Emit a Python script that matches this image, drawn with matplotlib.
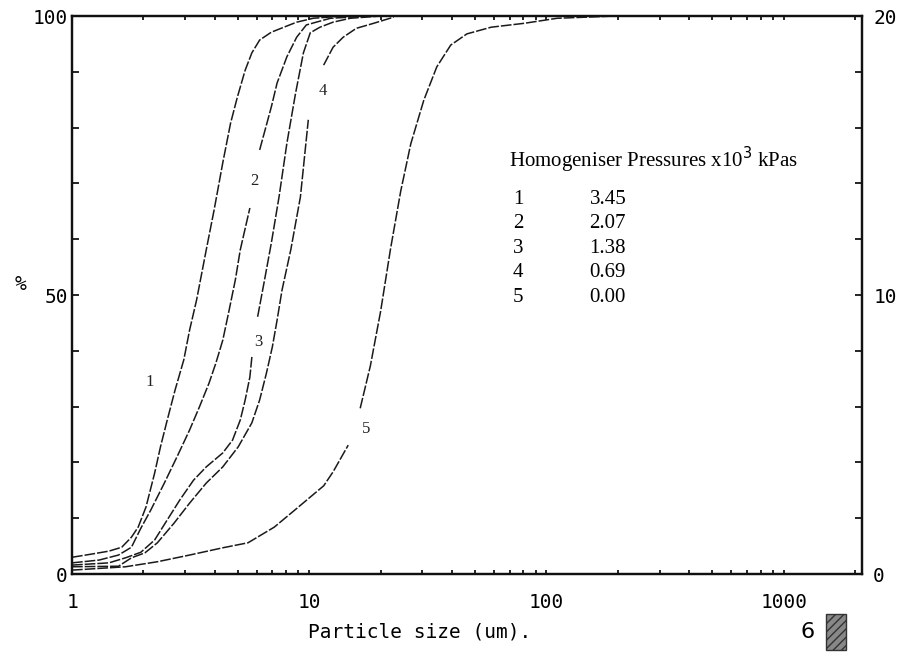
import numpy as np
import matplotlib
matplotlib.use('Agg')
import matplotlib.pyplot as plt
from matplotlib.ticker import FixedLocator, NullFormatter
from matplotlib.patches import Rectangle

nan = np.nan

# particle size (um) / cumulative %; nan = gap left for the curve label
size_1 = [1.0, 1.22, 1.43, 1.62, 1.78, 1.90, 2.05, 2.23, 2.36, 2.52, 2.72, 2.96, 3.13, 3.35,
          3.68, 3.97, 4.32, 4.66, 4.98, 5.37, 5.73, 6.18, 6.92, 7.82, 8.85, 10.4, 13.9, 20.0]
pct_1 = [3.0, 3.6, 4.1, 4.8, 6.6, 8.4, 12.0, 18.1, 22.8, 27.6, 33.0, 38.4, 43.7, 49.1,
         58.1, 65.2, 73.7, 80.8, 85.5, 90.3, 93.4, 95.7, 97.1, 98.0, 98.9, 99.6, 100.0, 100.0]

size_2 = [1.0, 1.30, 1.57, 1.78, 1.95, 2.15, 2.45, 2.77, 3.13, 3.44, 3.78, 4.04, 4.32, 4.57,
          4.88, 5.12, 5.62, nan, 6.18, 6.92, 7.32, 8.05, 8.85, 9.72, 10.7, 12.3, 18.0]
pct_2 = [2.0, 2.5, 3.4, 4.8, 8.2, 11.5, 16.3, 21.0, 25.8, 29.9, 34.2, 37.8, 41.9, 46.8,
         52.7, 58.1, 65.6, nan, 76.0, 83.7, 88.0, 92.7, 96.2, 98.4, 98.9, 99.6, 100.0]

size_3 = [1.0, 1.43, 1.68, 1.95, 2.23, 2.52, 2.85, 3.25, 3.68, 4.32, 4.75, 5.12, 5.37, 5.62,
          5.73, nan, 6.06, 6.48, 6.92, 7.46, 8.05, 8.76, 9.45, 10.1, 11.1, 12.6, 14.9, 20.0]
pct_3 = [1.6, 2.0, 2.9, 3.9, 6.1, 9.7, 13.3, 16.8, 19.2, 21.7, 24.0, 27.6, 31.2, 35.3,
         38.9, nan, 46.1, 52.7, 59.3, 67.6, 77.2, 86.2, 93.4, 97.0, 98.0, 98.9, 99.6, 100.0]

size_4 = [1.0, 1.57, 1.78, 2.03, 2.29, 2.69, 3.13, 3.68, 4.32, 5.02, 5.73, 6.18, 6.60, 6.99,
          7.32, 7.68, 8.36, 9.18, 9.91, nan, 11.5, 12.6, 13.9, 15.8, 18.7, 22.7]
pct_4 = [1.3, 1.4, 2.9, 3.8, 5.6, 9.1, 12.7, 16.3, 19.2, 22.8, 27.1, 31.2, 36.0, 40.7,
         45.5, 50.9, 58.1, 67.6, 81.4, nan, 91.2, 94.4, 96.2, 97.8, 98.7, 99.8]

size_5 = [1.0, 1.68, 2.29, 3.13, 4.32, 5.52, 7.12, 8.6, 11.5, 12.6, 13.9, 14.6, nan, 16.4,
          18.1, 20.0, 22.0, 24.3, 26.8, 30.4, 34.5, 39.5, 46.2, 58.5, 80.7, 111.0, 195.0]
pct_5 = [0.7, 1.3, 2.2, 3.4, 4.7, 5.6, 8.4, 11.3, 15.8, 18.3, 21.5, 23.1, nan, 29.7,
         37.3, 47.1, 58.2, 68.6, 77.1, 84.9, 90.9, 94.8, 96.8, 98.0, 98.7, 99.6, 100.0]

curve_ids = ['1', '2', '3', '4', '5']
label_size = [2.13, 5.86, 6.1, 11.4, 17.4]
label_pct = [34.5, 70.5, 41.5, 86.5, 26.0]

pressures = ['3.45', '2.07', '1.38', '0.69', '0.00']

x_ticks = [1, 10, 100, 1000]
x_ticklabels = ['1', '10', '100', '1000']

mono = 'DejaVu Sans Mono'
serif = 'Liberation Serif'

fig = plt.figure(figsize=(8.97, 6.57), dpi=100)
ax = fig.add_axes([0.0803, 0.1263, 0.8807, 0.8493])

curves = [(size_1, pct_1), (size_2, pct_2), (size_3, pct_3), (size_4, pct_4), (size_5, pct_5)]
for xs, ys in curves:
    ax.plot(xs, ys, color='#1a1a1a', lw=1.1, linestyle=(0, (7, 1.3)))

for cid, lx, ly in zip(curve_ids, label_size, label_pct):
    ax.text(lx, ly, cid, fontsize=12, family=serif, ha='center', va='center', color='#222')

ax.set_xscale('log')
ax.set_xlim(1, 2140)
ax.set_ylim(0, 100)

ax.set_xticks(x_ticks)
ax.set_xticklabels(x_ticklabels, family=mono, fontsize=14)
minor = [m * 10 ** d for d in range(4) for m in range(2, 10) if m * 10 ** d < 2140]
ax.xaxis.set_minor_locator(FixedLocator(minor))
ax.xaxis.set_minor_formatter(NullFormatter())
ax.tick_params(axis='x', which='both', direction='in', length=3, width=1.2,
               top=True, pad=14)

ax.set_yticks([0, 50, 100])
ax.set_yticklabels(['0', '50', '100'], family=mono, fontsize=14)
ax.yaxis.set_minor_locator(FixedLocator(range(10, 100, 10)))
ax.tick_params(axis='y', which='both', direction='in', length=5, width=1.2, pad=3)

ax2 = ax.twinx()
ax2.set_ylim(0, 20)
ax2.set_yticks([0, 10, 20])
ax2.set_yticklabels(['0', '10', '20'], family=mono, fontsize=14)
ax2.yaxis.set_minor_locator(FixedLocator(range(2, 20, 2)))
ax2.tick_params(axis='y', which='both', direction='in', length=5, width=1.2, pad=8)

for a in (ax, ax2):
    for sp in a.spines.values():
        sp.set_linewidth(1.6)
        sp.set_color('#111')

fig.text(15 / 897, 1 - 285 / 657, '%', family=mono, fontsize=14, va='center')
fig.text(308 / 897, 1 - 632 / 657, 'Particle size (um).', family=mono, fontsize=14, va='center')

# legend table
ax.text(0.553, 0.742, 'Homogeniser Pressures x10$^3$ kPas', transform=ax.transAxes,
        family=serif, fontsize=15, va='center')
for i, (cid, p) in enumerate(zip(curve_ids, pressures)):
    yy = 0.672 - i * 0.0440
    ax.text(0.558, yy, cid, transform=ax.transAxes, family=serif, fontsize=15, va='center')
    ax.text(0.655, yy, p, transform=ax.transAxes, family=serif, fontsize=15, va='center')

# page number and stamp
fig.text(808 / 897, 1 - 632 / 657, '6', family='DejaVu Sans', fontsize=16, va='center', ha='center')
fig.patches.append(Rectangle((826 / 897, 1 - 650 / 657), 20 / 897, 36 / 657,
                             transform=fig.transFigure, facecolor='#888', edgecolor='#333',
                             hatch='////', lw=1))

plt.savefig('out.png', dpi=100)
